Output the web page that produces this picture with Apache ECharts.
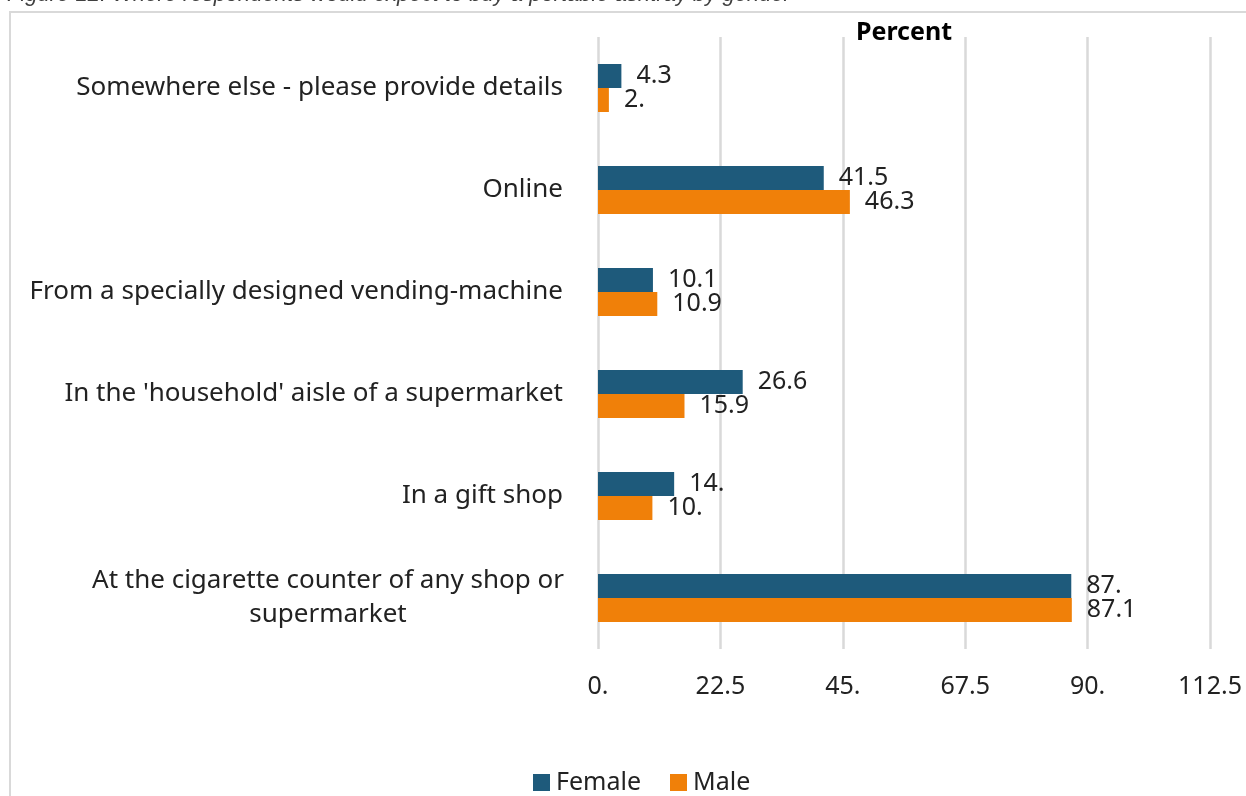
<!DOCTYPE html>
<html><head><meta charset="utf-8">
<script src="https://cdn.jsdelivr.net/npm/echarts@6/dist/echarts.min.js"></script>
<style>html,body{margin:0;padding:0;background:#fff}#c{width:1246px;height:796px}</style>
</head><body><div id="c"></div>
<script>
const categories = [
  "At the cigarette counter of any shop or supermarket",
  "In a gift shop",
  "In the 'household' aisle of a supermarket",
  "From a specially designed vending-machine",
  "Online",
  "Somewhere else - please provide details"
];
const femaleValues = [87, 14, 26.6, 10.1, 41.5, 4.3];
const maleValues = [87.1, 10, 15.9, 10.9, 46.3, 2];
const seriesNames = ["Female", "Male"];
const titleText = "Figure 12: Where respondents would expect to buy a portable ashtray by gender";
const axisName = "Percent";

const FONT = "Noto Sans";
const fmt = v => Number.isInteger(v) ? v + "." : String(v);

const chart = echarts.init(document.getElementById('c'));
chart.setOption({
  animation: false,
  textStyle: { fontFamily: FONT },
  graphic: [
    { type: 'rect', shape: { x: 10, y: 12, width: 1400, height: 1000 }, style: { fill: 'none', stroke: '#d9d9d9', lineWidth: 2 }, silent: true },
    { type: 'text', x: 7, y: -16, style: { text: titleText, font: 'italic 22px "Liberation Sans"', fill: '#404040', verticalAlign: 'top' } },
    { type: 'text', x: 904, y: 33, style: { text: axisName, font: 'bold 25px "' + FONT + '"', fill: '#000', align: 'center', verticalAlign: 'middle' } }
  ],
  legend: {
    data: seriesNames,
    left: 528, top: 765,
    icon: 'rect', itemWidth: 17, itemHeight: 17, itemGap: 29,
    textStyle: { fontSize: 25, color: '#222', fontFamily: FONT, padding: [0, 0, 0, 1] }
  },
  grid: { left: 598, right: 36, top: 37, bottom: 147, containLabel: false },
  xAxis: {
    type: 'value', min: 0, max: 112.5, interval: 22.5,
    axisLine: { show: false }, axisTick: { show: false },
    splitLine: { lineStyle: { color: '#d9d9d9', width: 2.5 } },
    axisLabel: { formatter: v => fmt(v), fontSize: 25, color: '#222', margin: 25, fontFamily: FONT }
  },
  yAxis: {
    type: 'category', data: categories,
    axisLine: { show: false }, axisTick: { show: false },
    axisLabel: {
      fontSize: 26, color: '#222', margin: 35, fontFamily: FONT,
      formatter: v => v.startsWith('At the cigarette')
        ? '{c|At the cigarette counter of any shop or}\n{c|supermarket}'
        : v,
      rich: { c: { width: 470, align: 'center', fontSize: 26, color: '#222', fontFamily: FONT, lineHeight: 34 } }
    }
  },
  series: [
    {
      name: seriesNames[0], type: 'bar', data: femaleValues, barWidth: 24, barGap: '0%',
      itemStyle: { color: '#1e5a7b' },
      label: { show: true, position: 'right', distance: 15, fontSize: 25, color: '#222', fontFamily: FONT, formatter: p => fmt(p.value) }
    },
    {
      name: seriesNames[1], type: 'bar', data: maleValues, barWidth: 24, barGap: '0%',
      itemStyle: { color: '#f08009' },
      label: { show: true, position: 'right', distance: 15, fontSize: 25, color: '#222', fontFamily: FONT, formatter: p => fmt(p.value) }
    }
  ]
});
</script></body></html>
